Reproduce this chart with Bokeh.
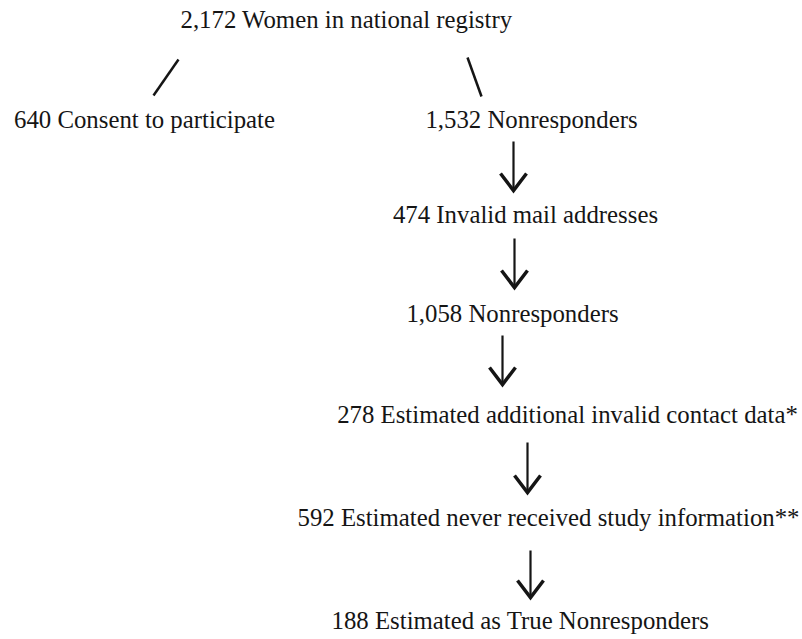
from bokeh.plotting import figure
from bokeh.models import Range1d, ColumnDataSource
from bokeh.core.properties import value
from bokeh.embed import file_html
from bokeh.resources import INLINE

# ---- data ----
counts = [2172, 640, 1532, 474, 1058, 278, 592, 188]
labels = [
    "Women in national registry",
    "Consent to participate",
    "Nonresponders",
    "Invalid mail addresses",
    "Nonresponders",
    "Estimated additional invalid contact data*",
    "Estimated never received study information**",
    "Estimated as True Nonresponders",
]

# ---- layout (page pixel coordinates) ----
node_x = [346, 144, 531, 525, 512, 567, 548, 520]
node_y = [19, 119, 119, 214, 313, 414, 517, 620]

# branch lines from the top node (x0, y0, x1, y1)
branch_x0 = [153, 467]
branch_y0 = [95, 57]
branch_x1 = [178, 481]
branch_y1 = [59, 96]

# down arrows: x, top y, tip y
arrow_x = [513, 514, 502, 527, 530]
arrow_y0 = [141, 238, 335, 442, 550]
arrow_y1 = [190, 287, 384, 492, 597]
head_w = 13
head_h = 17

W, H = 802, 639
p = figure(width=W, height=H, output_backend="svg", toolbar_location=None,
           x_range=Range1d(0, W), y_range=Range1d(H, 0),
           min_border=0, border_fill_color="white", background_fill_color="white")
p.axis.visible = False
p.grid.visible = False
p.outline_line_color = None

texts = [f"{c:,} {l}" for c, l in zip(counts, labels)]
src = ColumnDataSource(dict(x=node_x, y=node_y, t=texts))
p.text(x="x", y="y", text="t", source=src, text_font=value("Liberation Serif"),
       text_font_size="24.8px", text_align="center", text_baseline="middle",
       text_color="#151515")

p.segment(x0=branch_x0, y0=branch_y0, x1=branch_x1, y1=branch_y1,
          line_color="#151515", line_width=2.5)

p.segment(x0=arrow_x, y0=arrow_y0, x1=arrow_x, y1=arrow_y1,
          line_color="#151515", line_width=2.2)
hx = [[x - head_w, x, x + head_w] for x in arrow_x]
hy = [[y - head_h, y, y - head_h] for y in arrow_y1]
p.multi_line(xs=hx, ys=hy, line_color="#151515", line_width=3.5,
             line_join="miter")

open("out.html", "w").write(file_html(p, INLINE))
